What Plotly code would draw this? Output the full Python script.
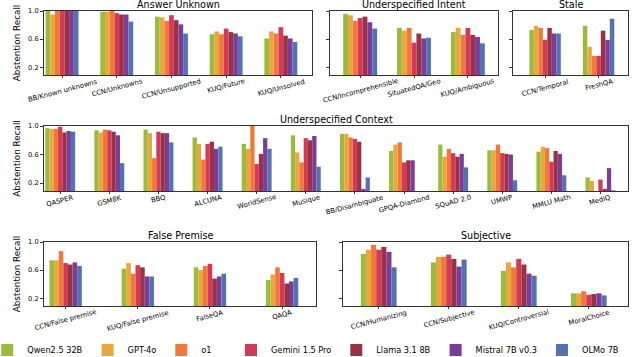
import plotly.graph_objects as go

models = ["Qwen2.5 32B", "GPT-4o", "o1", "Gemini 1.5 Pro", "Llama 3.1 8B", "Mistral 7B v0.3", "OLMo 7B"]
colors = ["#9bbb3e", "#e8a83e", "#f0793a", "#d43a57", "#9a3245", "#7c3c98", "#5472b2"]

# each row: one model, values per category
answer_unknown_cats = ["BB/Known unknowns", "CCN/Unknowns", "CCN/Unsupported", "KUQ/Future", "KUQ/Unsolved"]
answer_unknown_vals = [
    [1.00, 0.99, 0.92, 0.67, 0.61],
    [0.95, 0.99, 0.91, 0.71, 0.71],
    [1.00, 1.00, 0.86, 0.67, 0.68],
    [1.00, 0.97, 0.94, 0.75, 0.77],
    [1.00, 0.95, 0.87, 0.70, 0.65],
    [1.00, 0.95, 0.81, 0.68, 0.61],
    [1.00, 0.85, 0.68, 0.64, 0.56],
]

intent_cats = ["CCN/Incomprehensible", "SituatedQA/Geo", "KUQ/Ambiguous"]
intent_vals = [
    [0.96, 0.76, 0.70],
    [0.94, 0.72, 0.76],
    [0.86, 0.76, 0.66],
    [0.90, 0.55, 0.76],
    [0.92, 0.68, 0.66],
    [0.84, 0.61, 0.63],
    [0.75, 0.62, 0.54],
]

stale_cats = ["CCN/Temporal", "FreshQA"]
stale_vals = [
    [0.73, 0.79],
    [0.79, 0.49],
    [0.76, 0.36],
    [0.59, 0.36],
    [0.76, 0.72],
    [0.68, 0.59],
    [0.68, 0.89],
]

context_cats = ["QASPER", "GSM8K", "BBQ", "ALCUNA", "WorldSense", "Musique", "BB/Disambiguate",
                "GPQA-Diamond", "SQuAD 2.0", "UMWP", "MMLU Math", "MediQ"]
context_vals = [
    [0.97, 0.94, 0.95, 0.84, 0.75, 0.87, 0.89, 0.65, 0.74, 0.66, 0.64, 0.28],
    [0.96, 0.91, 0.90, 0.75, 0.68, 0.63, 0.89, 0.74, 0.57, 0.66, 0.71, 0.23],
    [0.96, 0.95, 0.55, 0.53, 1.00, 0.49, 0.84, 0.77, 0.68, 0.74, 0.69, 0.00],
    [0.99, 0.94, 0.92, 0.75, 0.47, 0.83, 0.82, 0.49, 0.62, 0.62, 0.50, 0.25],
    [0.91, 0.92, 0.90, 0.78, 0.61, 0.80, 0.78, 0.52, 0.57, 0.61, 0.65, 0.12],
    [0.93, 0.87, 0.90, 0.68, 0.83, 0.86, 0.12, 0.52, 0.61, 0.60, 0.61, 0.41],
    [0.92, 0.48, 0.77, 0.71, 0.68, 0.43, 0.28, 0.00, 0.42, 0.24, 0.31, 0.10],
]

premise_cats = ["CCN/False premise", "KUQ/False premise", "FalseQA", "QAQA"]
premise_vals = [
    [0.74, 0.62, 0.64, 0.46],
    [0.74, 0.70, 0.60, 0.54],
    [0.87, 0.55, 0.66, 0.64],
    [0.70, 0.67, 0.69, 0.56],
    [0.68, 0.64, 0.48, 0.41],
    [0.71, 0.51, 0.51, 0.44],
    [0.66, 0.51, 0.55, 0.49],
]

subjective_cats = ["CCN/Humanizing", "CCN/Subjective", "KUQ/Controversial", "MoralChoice"]
subjective_vals = [
    [0.83, 0.71, 0.59, 0.27],
    [0.89, 0.79, 0.71, 0.27],
    [0.96, 0.79, 0.64, 0.30],
    [0.89, 0.82, 0.76, 0.25],
    [0.93, 0.76, 0.68, 0.26],
    [0.86, 0.65, 0.55, 0.27],
    [0.64, 0.75, 0.52, 0.24],
]

W, H = 640, 357
FONT = "DejaVu Sans"

# title, categories, values, x pixels, y pixels, x range, bar width, y labels
panels = [
    ("Answer Unknown", answer_unknown_cats, answer_unknown_vals, (44, 312), (11, 75), (-0.33, 4.57), 0.086, True),
    ("Underspecified Intent", intent_cats, intent_vals, (330, 498), (11, 75), (-0.56, 2.56), 0.09, False),
    ("Stale", stale_cats, stale_vals, (513, 628), (11, 75), (-0.6, 1.55), 0.084, False),
    ("Underspecified Context", context_cats, context_vals, (44, 628), (126, 191), (-0.33, 11.56), 0.087, True),
    ("False Premise", premise_cats, premise_vals, (44, 316), (242, 306), (-0.3, 3.47), 0.064, True),
    ("Subjective", subjective_cats, subjective_vals, (343, 628), (242, 306), (-0.51, 3.56), 0.073, False),
]

fig = go.Figure()
layout = dict(
    width=W, height=H,
    margin=dict(l=0, r=0, t=0, b=0, autoexpand=False),
    plot_bgcolor="white", paper_bgcolor="white",
    barmode="overlay",
    font=dict(family=FONT, color="black"),
)
annotations = []

for k, (title, cats, vals, xp, yp, xr, bw, ylab) in enumerate(panels, 1):
    sfx = "" if k == 1 else str(k)
    for m, model in enumerate(models):
        fig.add_trace(go.Bar(
            x=list(range(len(cats))), y=vals[m],
            xaxis="x" + sfx, yaxis="y" + sfx,
            width=bw, offset=(m - 3.5) * bw,
            marker=dict(color=colors[m], line=dict(width=0)),
            name=model, legendgroup=model, showlegend=(k == 1),
            legend="legend" if m < 3 else "legend2",
        ))
    layout["xaxis" + sfx] = dict(
        domain=[xp[0] / W, xp[1] / W], anchor="y" + sfx, range=list(xr),
        tickvals=list(range(len(cats))), showticklabels=False,
        ticks="outside", ticklen=2, tickwidth=0.8, tickcolor="#333",
        showline=True, mirror=True, linecolor="#333", linewidth=0.8,
        showgrid=False, zeroline=False,
    )
    layout["yaxis" + sfx] = dict(
        domain=[1 - yp[1] / H, 1 - yp[0] / H], anchor="x" + sfx, range=[0.09, 1.0],
        tickvals=[0.2, 0.6, 1.0], ticktext=["0.2", "0.6", "1.0"], showticklabels=ylab,
        tickfont=dict(size=6.7),
        ticks="outside", ticklen=3, tickwidth=0.8, tickcolor="#333",
        showline=True, mirror=True, linecolor="#333", linewidth=0.8,
        showgrid=False, zeroline=False,
        title=dict(text="Abstention Recall" if ylab else "", font=dict(size=8.8), standoff=6),
    )
    annotations.append(dict(
        text=title, xref="x" + sfx + " domain", yref="y" + sfx + " domain",
        x=0.5, y=1, xanchor="center", yanchor="bottom", yshift=-1,
        showarrow=False, font=dict(size=9.6),
    ))
    for i, c in enumerate(cats):
        annotations.append(dict(
            text=c, xref="x" + sfx, yref="y" + sfx + " domain",
            x=i, y=0, xanchor="center", yanchor="top", yshift=0,
            textangle=-15, showarrow=False, font=dict(size=6.8),
        ))

layout["annotations"] = annotations
legend_style = dict(orientation="h", yanchor="middle", y=1 - 350 / H, xanchor="left",
                    font=dict(size=8.2), bgcolor="rgba(0,0,0,0)", borderwidth=0)
layout["legend"] = dict(x=-0.02, **legend_style)
layout["legend2"] = dict(x=231 / W, **legend_style)

fig.update_layout(**layout)
fig.write_html("out.html", config={"displayModeBar": False},
               post_script="document.body.style.margin = '0px';")
